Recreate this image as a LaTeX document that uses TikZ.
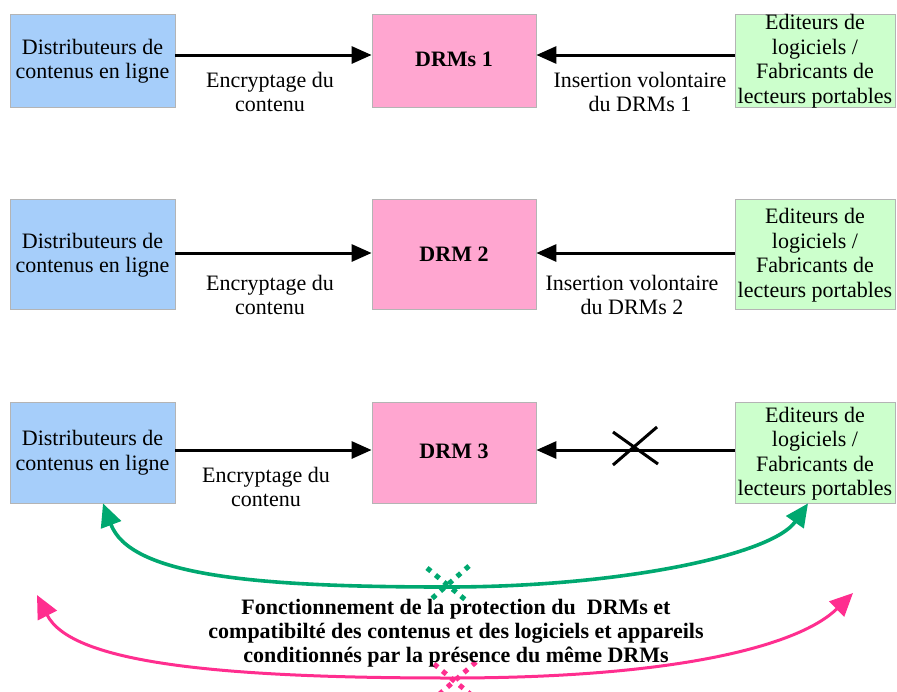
\documentclass[tikz,border=0pt]{standalone}
\usepackage{fontspec}
\setmainfont{Liberation Serif}
\usetikzlibrary{arrows.meta}
\definecolor{distblue}{HTML}{A6CEFA}
\definecolor{drmpink}{HTML}{FFA6D0}
\definecolor{editgreen}{HTML}{CCFFCC}
\definecolor{boxline}{HTML}{B4B4B4}
\definecolor{arcgreen}{HTML}{00A870}
\definecolor{arcpink}{HTML}{FF2E8F}
\tikzset{
  box/.style={draw=boxline, line width=0.8pt, inner sep=0pt, minimum width=#1},
  box/.default=165pt,
  boxtext/.style={inner sep=0pt, align=center, font=\fontsize{22}{24.5}\selectfont},
  drmtext/.style={inner sep=0pt, font=\fontsize{22}{24.5}\selectfont\bfseries},
  flow/.style={line width=3pt, -{Triangle[length=20pt,width=17pt]}},
  greenarc/.style={draw=arcgreen, line width=3.6pt,
    {Triangle[length=23pt,width=21pt]}-{Triangle[length=23pt,width=21pt]}},
  pinkarc/.style={draw=arcpink, line width=3pt,
    {Triangle[length=23pt,width=21pt]}-{Triangle[length=23pt,width=21pt]}},
  dotcross/.style={line width=5pt, dash pattern=on 5pt off 6pt},
}
\begin{document}
\begin{tikzpicture}[x=1pt,y=-1pt]
\useasboundingbox (0,0) rectangle (897,691);

% row 1
\node[box, fill=distblue, minimum height=93pt] (d1) at (92.5,61) {};
\node[box=164pt, fill=drmpink, minimum height=93pt] (m1) at (454,61) {};
\node[box=160pt, fill=editgreen, minimum height=93pt] (e1) at (815,61) {};
\node[boxtext] at (d1.center) {Distributeurs de\\contenus en ligne};
\node[drmtext] at ([yshift=2pt]m1.center) {DRMs 1};
\node[boxtext] at (e1.center) {Editeurs de\\logiciels /\\Fabricants de\\lecteurs portables};
\draw[flow] ([yshift=6pt]d1.east) -- ([yshift=6pt]m1.west);
\draw[flow] ([yshift=6pt]e1.west) -- ([yshift=6pt]m1.east);
\node[boxtext] (l1) at (270,92) {Encryptage du\\contenu};
\node[boxtext] (r1) at (640,92) {Insertion volontaire\\du DRMs 1};

% row 2
\node[box, fill=distblue, minimum height=110pt] (d2) at (92.5,254) {};
\node[box=164pt, fill=drmpink, minimum height=110pt] (m2) at (454,254) {};
\node[box=160pt, fill=editgreen, minimum height=110pt] (e2) at (815,254) {};
\node[boxtext] at ([yshift=-1pt]d2.center) {Distributeurs de\\contenus en ligne};
\node[drmtext] at (m2.center) {DRM 2};
\node[boxtext] at ([yshift=-1pt]e2.center) {Editeurs de\\logiciels /\\Fabricants de\\lecteurs portables};
\draw[flow] ([yshift=1pt]d2.east) -- ([yshift=1pt]m2.west);
\draw[flow] ([yshift=1pt]e2.west) -- ([yshift=1pt]m2.east);
\node[boxtext] (l2) at (270,295) {Encryptage du\\contenu};
\node[boxtext] (r2) at (632,295) {Insertion volontaire\\du DRMs 2};

% row 3
\node[box, fill=distblue, minimum height=101pt] (d3) at (92.5,452.5) {};
\node[box=164pt, fill=drmpink, minimum height=101pt] (m3) at (454,452.5) {};
\node[box=160pt, fill=editgreen, minimum height=101pt] (e3) at (815,452.5) {};
\node[boxtext] at (d3.center) {Distributeurs de\\contenus en ligne};
\node[drmtext] at ([yshift=1pt]m3.center) {DRM 3};
\node[boxtext] at ([yshift=-1pt]e3.center) {Editeurs de\\logiciels /\\Fabricants de\\lecteurs portables};
\draw[flow] ([yshift=2.5pt]d3.east) -- ([yshift=2.5pt]m3.west);
\draw[flow] ([yshift=2.5pt]e3.west) -- ([yshift=2.5pt]m3.east);
\node[boxtext] (l3) at (266,487) {Encryptage du\\contenu};
% blocked insertion
\draw[line width=3pt] (613,432) -- (658,464) (613,465) -- (657,427);

% compatibility arcs
\coordinate (pl) at (37,595);
\coordinate (pr) at (853,593);
\draw[greenarc] ([xshift=10.5pt]d3.south) .. controls (130,575) and (250,587) .. (447,587)
  .. controls (620,587) and (772,555) .. ([xshift=-7pt]e3.south);
\draw[pinkarc] (pl) .. controls (70,660) and (200,678) .. (450,678)
  .. controls (680,678) and (800,645) .. (pr);
% broken links
\draw[dotcross, arcgreen] (427,568) -- (468,602) (469,566) -- (428,602);
\draw[dotcross, arcpink] (434,664) -- (475,698) (476,662) -- (435,698);

\node[boxtext, font=\fontsize{22}{24}\selectfont\bfseries] (cap) at (456,633)
  {Fonctionnement de la protection du\ \ DRMs et\\compatibilté des contenus et des logiciels et appareils\\conditionnés par la présence du même DRMs};
\end{tikzpicture}
\end{document}
